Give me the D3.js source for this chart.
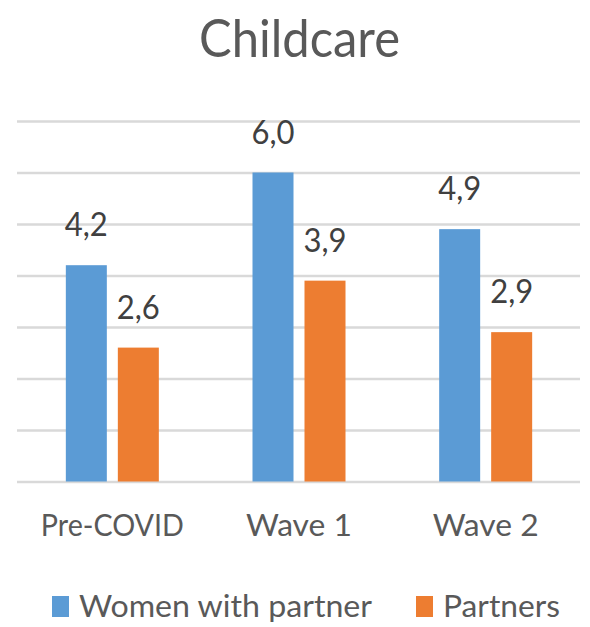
<!DOCTYPE html>
<html lang="en">

<head>
    <meta charset="utf-8">
    <style>
        body { margin: 0; background: #fff; }
        text { font-family: Lato, "Noto Sans", sans-serif; }
    </style>
</head>

<body>
    <script src="https://d3js.org/d3.v7.min.js"></script>
    <div id="chart"></div>
    <script>
        // data
        var categories = ["Pre-COVID", "Wave 1", "Wave 2"];
        var women = [4.2, 6.0, 4.9];
        var partners = [2.6, 3.9, 2.9];
        var seriesNames = ["Women with partner", "Partners"];
        var yTicks = [0, 1, 2, 3, 4, 5, 6, 7];

        var colors = ["#5b9bd5", "#ed7d31"];

        var svg = d3.select("#chart").append("svg")
            .attr("width", 590)
            .attr("height", 627);

        var x = d3.scaleBand().domain(categories).range([19, 579]);
        var y = d3.scaleLinear().domain([0, 7]).range([481.5, 121]);

        // gridlines
        var grid = svg.append("g")
            .attr("transform", "translate(17,0)")
            .call(d3.axisLeft(y).tickValues(yTicks).tickSize(-563).tickFormat(""));
        grid.select(".domain").remove();
        grid.selectAll("line").attr("stroke", "#d9d9d9").attr("stroke-width", 2.5);

        // bars
        var barW = 41, gap = 11;
        var rows = categories.map(function (c, i) { return { cat: c, vals: [women[i], partners[i]] }; });

        var groups = svg.selectAll(".grp")
            .data(rows)
            .enter().append("g")
            .attr("transform", function (d) { return "translate(" + (x(d.cat) + x.bandwidth() / 2) + ",0)"; });

        groups.selectAll("rect")
            .data(function (d) { return d.vals; })
            .enter().append("rect")
            .attr("x", function (d, i) { return i == 0 ? -(barW + gap / 2) : gap / 2; })
            .attr("width", barW)
            .attr("y", function (d) { return y(d); })
            .attr("height", function (d) { return y(0) - y(d); })
            .attr("fill", function (d, i) { return colors[i]; });

        // fit text to a width (picture is stretched vertically)
        function fit(sel, w) {
            sel.attr("textLength", w).attr("lengthAdjust", "spacingAndGlyphs");
        }

        // value labels
        groups.selectAll(".val")
            .data(function (d) { return d.vals; })
            .enter().append("text")
            .attr("x", function (d, i) { return i == 0 ? -(barW + gap) / 2 : (barW + gap) / 2; })
            .attr("y", function (d) { return y(d) - 29; })
            .attr("text-anchor", "middle")
            .style("font-size", "33px")
            .style("fill", "#404040")
            .text(function (d) { return d3.format(".1f")(d).replace(".", ","); })
            .call(fit, 43);

        // category labels
        var catW = [143, 106, 106];
        svg.selectAll(".cat")
            .data(categories)
            .enter().append("text")
            .attr("x", function (d) { return x(d) + x.bandwidth() / 2; })
            .attr("y", 536)
            .attr("text-anchor", "middle")
            .style("font-size", "30.5px")
            .style("fill", "#595959")
            .text(function (d) { return d; })
            .each(function (d, i) { d3.select(this).call(fit, catW[i]); });

        // title
        svg.append("text")
            .attr("x", 299.5)
            .attr("y", 57)
            .attr("text-anchor", "middle")
            .style("font-size", "51.5px")
            .style("fill", "#595959")
            .text("Childcare")
            .call(fit, 201);

        // legend
        var legX = [52, 416], legW = [293, 117];
        var leg = svg.selectAll(".leg")
            .data(seriesNames)
            .enter().append("g")
            .attr("transform", function (d, i) { return "translate(" + legX[i] + ",0)"; });
        leg.append("rect")
            .attr("x", 0).attr("y", 596)
            .attr("width", 17).attr("height", 21)
            .attr("fill", function (d, i) { return colors[i]; });
        leg.append("text")
            .attr("x", 27).attr("y", 617)
            .style("font-size", "30.5px")
            .style("fill", "#595959")
            .text(function (d) { return d; })
            .each(function (d, i) { d3.select(this).call(fit, legW[i]); });
    </script>
</body>

</html>
